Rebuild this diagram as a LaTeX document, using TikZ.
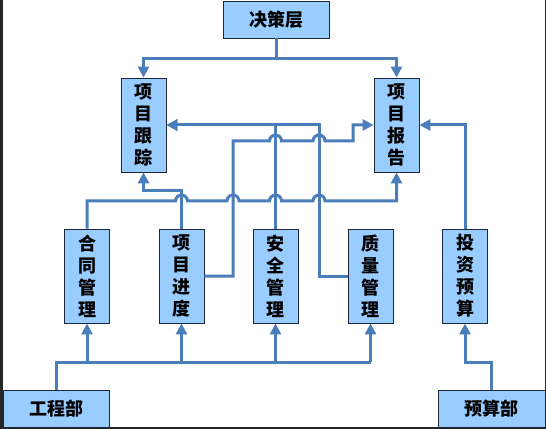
\documentclass[tikz,border=0pt]{standalone}
\usepackage{fontspec}
\setmainfont{Noto Sans CJK SC}
\usetikzlibrary{arrows.meta}
\definecolor{linec}{HTML}{4A7EBB}
\definecolor{boxfill}{HTML}{99CCFF}
\definecolor{boxline}{HTML}{1C2838}
\definecolor{framec}{HTML}{262626}
\begin{document}
\begin{tikzpicture}[x=1pt,y=1pt,
  box/.style={draw=boxline,line width=0.9pt,fill=boxfill,inner sep=0pt,
    font=\fontsize{18}{22}\selectfont\bfseries,align=center},
  vbox/.style={box,minimum width=45pt,minimum height=94pt,text width=45pt},
  hbox/.style={box,minimum width=106pt,minimum height=37pt},
  conn/.style={draw=linec,line width=3pt},
  arr/.style={conn,-{Triangle[width=11pt,length=11pt]}}]
\useasboundingbox (0,0) rectangle (546,429);
\fill[white] (0,0) rectangle (546,429);
% frame of the screenshot
\fill[framec] (0,0) rectangle (3,429);
\fill[framec] (544.5,0) rectangle (546,429);
\fill[framec] (0,0) rectangle (546,2);
% nodes
\node[hbox] (juece) at (276,409.5) {决策层};
\node[vbox] (genzong) at (143.5,304) {项\\目\\跟\\踪};
\node[vbox] (baogao) at (396.5,304) {项\\目\\报\\告};
\node[vbox] (hetong) at (87,153) {合\\同\\管\\理};
\node[vbox] (jindu) at (181.5,153) {项\\目\\进\\度};
\node[vbox] (anquan) at (275.5,153) {安\\全\\管\\理};
\node[vbox] (zhiliang) at (370.5,153) {质\\量\\管\\理};
\node[vbox] (touzi) at (465,153) {投\\资\\预\\算};
\node[hbox] (gongcheng) at (56,20.5) {工程部};
\node[hbox,minimum width=107pt] (yusuan) at (491.5,20.5) {预算部};
% decision layer to the two upper boxes
\draw[arr] (juece.south) -- (276,370) -| (genzong.north);
\draw[arr] (juece.south) -- (276,370) -| (baogao.north);
% safety and quality into tracking
\draw[arr] (anquan.north) |- (genzong.east);
\draw[arr] (zhiliang.west) -- (319,153) -- (319,304) -- (genzong.east);
% progress into tracking
\draw[arr] (jindu.north) -- (181.5,238) -- (143.5,238) -- (genzong.south);
% progress into report (with hops)
\draw[arr] (jindu.east) -- (233,153) -- (233,288) -- (269.5,288)
  arc[start angle=180,end angle=0,radius=6pt] -- (313,288)
  arc[start angle=180,end angle=0,radius=6pt] -- (353,288) -- (353,304)
  -- (baogao.west);
% contract into report (with hops)
\draw[arr] (hetong.north) -- (87,228) -- (175.5,228)
  arc[start angle=180,end angle=0,radius=6pt] -- (227,228)
  arc[start angle=180,end angle=0,radius=6pt] -- (269.5,228)
  arc[start angle=180,end angle=0,radius=6pt] -- (313,228)
  arc[start angle=180,end angle=0,radius=6pt] -- (396.5,228)
  -- (baogao.south);
% budget into report
\draw[arr] (touzi.north) |- (baogao.east);
% engineering dept to the four boxes
\draw[conn] (gongcheng.north) -- (56,67) -- (370.5,67);
\draw[arr] (87,67) -- (hetong.south);
\draw[arr] (181.5,67) -- (jindu.south);
\draw[arr] (275.5,67) -- (anquan.south);
\draw[arr] (370.5,67) -- (zhiliang.south);
% budget dept to investment budget
\draw[arr] (yusuan.north) -- (491.5,67) -- (465,67) -- (touzi.south);
\end{tikzpicture}
\end{document}
